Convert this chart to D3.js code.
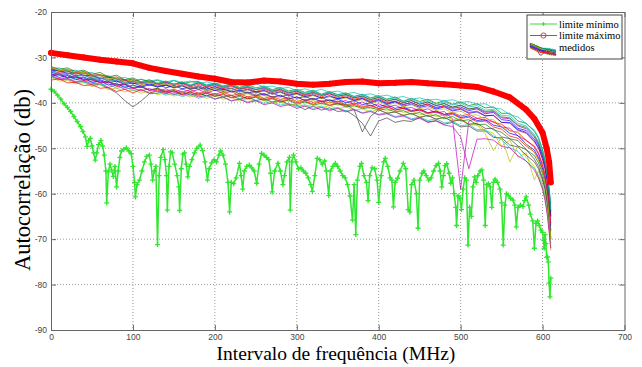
<!DOCTYPE html>
<html>
<head>
<meta charset="utf-8">
<script src="https://cdn.jsdelivr.net/npm/d3@7"></script>
<style>
  body { margin: 0; background: #fff; }
</style>
</head>
<body>
<script>
// axis ticks
const xTicks = [0, 100, 200, 300, 400, 500, 600, 700];
const yTicks = [-90, -80, -70, -60, -50, -40, -30, -20];

// limite minimo (green, '+' markers)
const greenX = [
  0,4,8,12,16,20,24,28,32,36,
  39,42,44,46,48,50,52,54,56,58,
  61,63,65,67,68,70,72,74,76,78,
  80,82,84,86,89,92,95,98,100,102,
  103,105,108,111,114,117,120,122,124,126,
  128,130,132,134,137,139,141,142,144,146,
  148,151,154,156,157,159,161,163,165,167,
  169,172,175,178,182,185,188,191,193,196,
  199,202,205,207,210,213,216,218,220,223,
  226,230,232,234,236,239,242,245,248,251,
  254,257,260,263,266,268,270,273,277,280,
  283,285,288,291,292,294,296,299,302,305,
  308,311,314,317,319,322,325,328,331,334,
  336,339,341,344,347,350,353,356,359,362,
  365,368,370,372,374,377,379,382,385,387,
  389,392,395,398,400,403,406,408,411,414,
  416,418,420,423,426,430,433,436,438,440,
  443,446,448,450,453,455,458,461,464,467,
  470,473,475,477,479,481,483,486,488,490,
  492,494,495,497,499,501,503,505,507,509,
  511,513,515,517,519,521,524,526,528,530,
  532,534,536,538,540,542,545,548,550,552,
  554,556,558,561,564,566,568,570,573,576,
  578,580,583,585,588,590,592,594,596,598,
  600,601,602,603,604,605,606,607,608,609,
  610
];
const greenY = [
  -37.0,-37.5,-38.3,-39.2,-40.2,-41.0,-41.9,-43.0,-44.1,-45.2,
  -46.3,-47.5,-49.6,-48.3,-47.8,-49.5,-51.0,-52.6,-51.0,-49.2,
  -48.3,-49.5,-51.5,-55.0,-62.0,-55.2,-53.5,-54.8,-56.2,-54.0,
  -58.5,-55.0,-52.0,-50.6,-50.2,-49.9,-50.6,-51.2,-54.0,-57.5,
  -60.7,-58.0,-57.0,-55.0,-53.0,-51.8,-51.5,-53.5,-57.0,-55.0,
  -54.0,-71.2,-56.0,-52.0,-50.3,-52.5,-56.0,-63.6,-54.0,-50.8,
  -51.0,-53.5,-56.0,-58.5,-63.7,-54.5,-51.3,-51.0,-53.5,-56.3,
  -54.0,-52.5,-51.0,-50.0,-49.3,-50.5,-53.0,-57.0,-54.5,-53.2,
  -52.5,-53.0,-51.5,-50.6,-51.5,-53.5,-57.5,-64.0,-57.5,-57.8,
  -56.5,-53.3,-56.0,-59.0,-55.0,-54.0,-53.7,-54.3,-55.0,-57.7,
  -53.5,-51.1,-51.5,-52.0,-52.5,-55.5,-59.6,-55.0,-53.3,-55.0,
  -58.0,-56.0,-53.0,-52.0,-63.6,-53.0,-51.5,-53.0,-54.5,-54.3,
  -55.0,-55.5,-56.5,-58.0,-59.5,-56.0,-52.2,-52.5,-53.5,-52.8,
  -55.0,-60.4,-55.0,-54.0,-53.3,-54.0,-55.0,-56.0,-56.5,-58.0,
  -60.5,-65.8,-58.0,-69.0,-57.0,-54.0,-53.3,-56.0,-57.5,-61.5,
  -56.0,-54.3,-54.5,-57.0,-61.9,-56.0,-53.0,-52.2,-54.0,-56.5,
  -57.0,-62.9,-57.5,-56.6,-55.0,-53.3,-54.5,-63.5,-64.0,-58.0,
  -57.0,-60.0,-67.6,-57.0,-55.5,-55.0,-56.0,-57.0,-56.5,-55.0,
  -53.8,-53.3,-55.0,-58.5,-56.0,-53.8,-53.4,-55.5,-57.7,-56.5,
  -60.0,-63.0,-67.0,-60.5,-61.0,-63.5,-59.0,-56.5,-57.0,-71.3,
  -63.0,-65.0,-58.5,-56.3,-57.5,-56.0,-55.0,-54.8,-57.0,-67.0,
  -58.0,-57.8,-58.5,-63.0,-57.5,-56.8,-57.5,-59.0,-62.0,-71.3,
  -62.5,-60.0,-60.3,-61.0,-61.4,-62.5,-67.3,-63.0,-62.5,-62.8,
  -61.5,-60.7,-62.5,-64.5,-66.0,-72.0,-66.5,-66.0,-67.0,-68.0,
  -68.5,-70.2,-72.0,-69.0,-71.0,-74.0,-73.9,-75.0,-79.7,-82.7,
  -78.6
];

// limite maximo (red, 'o' markers)
const redX = [0,20,40,60,80,100,120,140,160,180,200,220,240,260,280,300,320,340,360,380,
  400,420,440,460,480,500,520,540,560,580,590,600,605,608,610];
const redY = [-29.0,-29.5,-30.0,-30.5,-30.9,-31.3,-32.3,-33.0,-33.6,-34.2,-34.7,-35.4,-35.5,-35.1,-35.3,
  -35.8,-36.0,-35.8,-35.4,-35.3,-35.7,-35.6,-35.4,-35.7,-35.9,-36.2,-36.5,-37.5,-38.8,-41.5,
  -43.5,-46.6,-50.0,-53.0,-57.5];

// medidos: sample frequencies shared by all measured curves
const medX = [0,10,20,30,40,50,60,70,80,90,100,110,120,130,140,150,160,170,180,190,
  200,210,220,230,240,250,260,270,280,290,300,310,320,330,340,350,360,370,380,390,
  400,410,420,430,440,450,460,470,480,490,500,510,520,530,540,550,560,570,580,
  590,595,600,603,606,608,610];

const medidos = [
  [-33.2,-33.9,-33.8,-34.5,-34.3,-35.0,-34.9,-35.6,-35.2,-36.0,
   -35.6,-36.3,-35.8,-36.5,-36.1,-36.6,-36.0,-36.9,-36.4,-37.0,
   -36.4,-37.1,-36.8,-37.4,-37.0,-37.6,-37.3,-38.0,-37.6,-38.3,
   -37.9,-38.6,-38.2,-39.0,-38.4,-39.1,-38.7,-39.4,-39.0,-39.8,
   -39.3,-40.1,-39.7,-40.4,-39.9,-40.7,-40.2,-41.0,-40.6,-41.2,
   -40.9,-41.7,-41.3,-42.4,-42.1,-43.7,-43.9,-45.6,-46.1,
   -48.0,-49.3,-51.6,-53.8,-57.0,-60.4,-64.5],
  [-32.5,-33.0,-32.9,-33.6,-33.2,-34.1,-33.8,-34.3,-34.8,-34.9,
   -35.4,-34.8,-35.5,-35.0,-35.7,-35.1,-35.8,-35.4,-35.3,-36.1,
   -35.6,-36.3,-35.8,-36.6,-36.0,-36.7,-36.3,-37.1,-36.6,-37.4,
   -37.0,-37.7,-37.2,-38.1,-37.5,-38.2,-37.8,-38.6,-38.1,-38.9,
   -38.4,-39.2,-38.7,-39.6,-39.0,-39.7,-39.2,-40.1,-39.5,-40.3,
   -39.8,-40.6,-40.2,-41.1,-40.9,-42.3,-42.3,-44.0,-44.5,
   -46.3,-47.8,-50.4,-52.6,-55.8,-59.0,-63.2],
  [-34.1,-33.8,-34.5,-34.3,-35.1,-34.9,-35.6,-35.4,-36.4,-36.0,
   -36.8,-36.5,-37.2,-36.8,-37.4,-37.0,-37.7,-37.1,-37.9,-37.5,
   -38.1,-37.6,-38.4,-38.0,-38.7,-38.3,-39.0,-38.6,-39.3,-38.8,
   -39.7,-39.2,-39.9,-39.5,-40.0,-39.6,-40.5,-40.0,-40.8,-40.5,
   -41.2,-40.7,-41.6,-41.2,-41.9,-41.6,-42.4,-42.0,-42.9,-42.5,
   -43.4,-43.2,-44.2,-44.0,-45.3,-45.8,-47.3,-47.8,-49.5,
   -50.8,-52.4,-55.0,-57.1,-60.4,-64.0,-68.3],
  [-32.4,-32.3,-33.0,-32.8,-33.6,-33.3,-34.0,-34.0,-34.7,-34.4,
   -35.1,-34.8,-35.2,-34.9,-35.4,-35.0,-35.5,-35.2,-35.7,-35.4,
   -35.8,-35.5,-36.1,-35.8,-36.3,-35.8,-36.5,-36.3,-36.8,-36.6,
   -37.3,-36.9,-37.5,-37.0,-37.7,-37.4,-38.0,-37.7,-38.3,-38.0,
   -38.6,-38.3,-38.9,-38.6,-39.2,-38.9,-39.4,-39.2,-39.6,-39.3,
   -39.9,-39.7,-40.3,-40.2,-41.1,-41.4,-42.6,-43.1,-44.6,
   -46.0,-47.5,-50.3,-52.4,-55.5,-58.6,-62.0],
  [-34.0,-34.7,-34.6,-35.3,-35.1,-35.8,-35.6,-36.6,-36.1,-37.0,
   -36.7,-37.4,-36.8,-37.6,-36.9,-37.7,-37.0,-37.5,-37.1,-37.8,
   -37.2,-37.9,-37.5,-38.4,-37.8,-38.5,-38.1,-38.8,-38.4,-39.2,
   -38.7,-39.5,-39.0,-39.7,-39.3,-39.8,-39.5,-40.3,-39.8,-40.7,
   -40.2,-41.0,-40.5,-41.3,-41.0,-41.8,-41.3,-42.2,-41.9,-43.5,
   -59.0,-44.0,-43.4,-43.9,-44.1,-45.3,-45.6,-47.3,-48.2,
   -49.8,-51.3,-54.0,-56.0,-59.5,-63.0,-67.0],
  [-32.8,-33.5,-33.1,-34.1,-33.7,-34.5,-34.4,-35.1,-34.9,-35.8,
   -35.3,-36.2,-35.7,-36.5,-36.0,-36.8,-36.3,-37.1,-36.7,-37.5,
   -37.0,-37.8,-37.5,-38.3,-38.0,-38.7,-38.4,-39.1,-38.8,-39.7,
   -39.3,-40.1,-39.4,-40.3,-39.8,-40.5,-40.2,-40.9,-40.6,-41.3,
   -40.9,-41.8,-41.3,-42.1,-41.8,-42.6,-42.3,-43.0,-42.7,-43.7,
   -43.5,-44.7,-44.7,-46.1,-46.7,-49.5,-48.2,-52.0,-51.0,
   -57.0,-55.0,-58.0,-60.0,-63.0,-67.0,-72.5],
  [-34.2,-34.9,-34.8,-35.5,-35.3,-36.1,-35.9,-36.8,-37.8,-39.5,
   -40.9,-39.6,-38.0,-37.9,-37.4,-38.2,-37.5,-38.3,-37.8,-38.5,
   -38.0,-38.7,-38.3,-39.2,-38.7,-39.5,-39.1,-39.8,-39.5,-40.3,
   -40.5,-41.5,-40.7,-41.6,-41.1,-41.9,-41.7,-42.8,-44.5,-47.3,
   -44.0,-43.3,-44.3,-43.9,-44.1,-43.2,-44.2,-43.9,-44.7,-44.3,
   -45.3,-45.1,-46.2,-46.2,-47.6,-47.7,-49.3,-49.7,-51.5,
   -53.0,-54.5,-57.0,-59.0,-62.5,-66.0,-70.0],
  [-32.9,-32.8,-33.6,-33.3,-34.0,-33.9,-34.7,-34.3,-35.4,-35.0,
   -35.8,-35.4,-36.2,-35.7,-36.7,-36.2,-36.9,-36.5,-37.0,-36.6,
   -37.3,-36.9,-37.6,-37.3,-37.8,-37.5,-38.3,-37.8,-38.6,-38.3,
   -39.0,-38.6,-39.3,-38.8,-39.6,-39.2,-40.0,-39.5,-40.4,-40.0,
   -40.8,-40.4,-41.2,-40.9,-41.7,-41.3,-42.2,-41.8,-42.6,-42.3,
   -43.2,-42.9,-43.9,-43.7,-44.9,-45.3,-46.7,-47.2,-49.1,
   -50.4,-52.0,-54.6,-56.8,-60.0,-63.5,-68.0],
  [-33.7,-33.6,-34.4,-34.0,-34.9,-34.6,-35.4,-35.3,-36.0,-35.9,
   -36.6,-36.3,-37.2,-36.8,-37.6,-37.3,-38.1,-37.6,-38.4,-37.9,
   -38.6,-38.2,-38.9,-38.6,-39.1,-38.8,-39.5,-39.1,-39.9,-39.4,
   -40.3,-39.8,-40.5,-40.1,-40.6,-40.2,-40.9,-40.6,-41.3,-41.0,
   -41.6,-41.3,-42.0,-41.7,-42.5,-42.1,-43.0,-42.6,-43.5,-43.0,
   -44.0,-43.7,-44.8,-44.7,-45.9,-46.5,-47.9,-48.3,-50.3,
   -51.6,-53.2,-55.6,-58.0,-61.5,-65.0,-69.5],
  [-32.2,-32.9,-32.6,-33.4,-33.1,-33.9,-33.8,-34.5,-34.3,-35.1,
   -34.8,-35.6,-35.2,-35.9,-35.5,-36.2,-35.7,-36.5,-35.9,-36.6,
   -36.1,-36.9,-36.4,-37.1,-36.7,-37.5,-37.0,-37.7,-37.3,-38.1,
   -37.7,-38.4,-37.9,-38.7,-38.0,-38.9,-38.4,-39.2,-38.8,-39.6,
   -39.1,-39.9,-39.6,-40.3,-40.0,-40.7,-40.3,-41.2,-40.7,-41.6,
   -41.2,-42.1,-41.8,-42.8,-42.8,-44.3,-44.5,-46.1,-46.7,
   -48.6,-50.0,-52.5,-54.6,-57.6,-61.0,-65.0],
  [-34.2,-33.8,-34.9,-34.6,-35.5,-35.3,-36.0,-35.8,-36.8,-36.4,
   -37.3,-37.0,-37.8,-37.5,-38.3,-37.9,-38.6,-38.2,-39.0,-38.5,
   -39.2,-38.7,-39.5,-39.1,-39.8,-39.4,-40.1,-39.7,-40.5,-40.1,
   -40.9,-40.4,-41.2,-40.7,-41.5,-41.0,-41.8,-41.4,-42.2,-41.7,
   -42.5,-42.2,-43.0,-42.7,-43.5,-43.1,-43.9,-43.5,-44.4,-44.1,
   -45.0,-44.8,-45.9,-45.9,-47.3,-48.1,-49.9,-50.7,-52.9,
   -54.4,-56.0,-58.5,-60.6,-64.0,-67.5,-71.0],
  [-32.9,-33.4,-33.4,-34.0,-33.9,-34.6,-34.5,-35.2,-35.1,-35.8,
   -35.3,-35.8,-35.3,-35.9,-35.5,-35.9,-35.6,-36.3,-35.6,-36.5,
   -35.9,-36.7,-36.2,-36.9,-36.6,-37.1,-36.8,-37.5,-37.1,-37.8,
   -37.4,-38.2,-37.7,-38.4,-38.0,-38.5,-38.2,-38.9,-38.5,-39.3,
   -38.8,-39.6,-39.2,-40.0,-39.5,-40.3,-39.8,-40.6,-40.1,-40.9,
   -40.5,-41.3,-41.1,-42.1,-41.9,-43.3,-43.5,-45.1,-45.7,
   -47.5,-49.0,-51.5,-53.5,-56.6,-60.0,-64.0],
  [-34.4,-35.2,-35.1,-35.8,-35.6,-36.4,-36.0,-37.1,-36.7,-37.6,
   -37.1,-37.9,-37.4,-38.2,-37.8,-38.5,-38.1,-38.7,-38.3,-39.0,
   -38.4,-39.2,-38.8,-39.6,-39.1,-39.8,-39.5,-40.1,-39.7,-40.6,
   -40.1,-40.8,-40.3,-41.1,-40.6,-41.3,-40.9,-41.6,-41.3,-42.0,
   -41.5,-42.3,-42.0,-42.7,-42.4,-43.1,-42.7,-43.6,-43.2,-44.0,
   -43.7,-44.9,-44.9,-46.8,-50.5,-47.5,-53.0,-49.5,-52.0,
   -54.0,-56.5,-59.0,-61.0,-64.5,-68.0,-72.0],
  [-32.5,-33.1,-33.0,-33.7,-33.4,-34.3,-34.0,-34.9,-34.6,-35.5,
   -35.1,-35.9,-35.5,-36.3,-35.8,-36.6,-36.2,-37.0,-36.5,-37.3,
   -36.8,-37.5,-37.2,-38.0,-37.6,-38.3,-37.9,-38.7,-38.3,-39.1,
   -38.7,-39.5,-39.0,-39.8,-39.4,-40.2,-40.3,-41.5,-46.4,-43.0,
   -41.5,-42.3,-42.0,-42.8,-42.3,-43.2,-42.8,-43.6,-43.2,-44.1,
   -43.7,-44.7,-44.5,-45.6,-45.7,-47.5,-47.9,-49.5,-50.3,
   -52.4,-54.0,-56.6,-58.8,-62.0,-65.5,-70.0],
  [-33.6,-34.4,-34.0,-34.9,-34.5,-35.5,-35.1,-36.1,-35.7,-36.6,
   -36.1,-36.6,-36.0,-36.5,-36.1,-36.6,-36.2,-36.9,-36.2,-37.0,
   -36.5,-37.2,-36.8,-37.6,-37.1,-37.8,-37.3,-38.1,-37.6,-38.5,
   -38.0,-38.8,-38.3,-39.0,-38.6,-39.1,-38.8,-39.6,-39.1,-40.0,
   -39.5,-40.3,-39.8,-40.7,-40.3,-41.0,-40.6,-41.4,-40.9,-41.8,
   -41.4,-42.3,-42.0,-42.9,-42.7,-44.3,-44.3,-45.9,-46.5,
   -48.4,-49.8,-52.2,-54.3,-57.5,-60.8,-65.0],
  [-32.0,-32.6,-32.3,-33.1,-32.8,-33.7,-33.3,-34.3,-33.9,-34.9,
   -34.5,-35.4,-34.9,-35.7,-35.2,-35.9,-35.4,-36.2,-35.5,-36.3,
   -35.8,-36.5,-36.1,-36.9,-36.4,-37.1,-36.6,-37.4,-37.0,-37.8,
   -37.4,-38.1,-37.6,-38.3,-37.8,-38.6,-38.1,-38.9,-38.5,-39.3,
   -38.8,-39.6,-39.2,-39.9,-39.5,-40.3,-39.8,-40.6,-40.2,-41.0,
   -40.5,-41.4,-41.0,-41.9,-41.7,-43.1,-43.3,-44.9,-45.4,
   -47.3,-48.8,-51.2,-53.2,-56.5,-59.8,-63.8],
  [-35.0,-34.7,-35.6,-35.5,-36.2,-36.0,-36.8,-36.6,-37.5,-37.0,
   -37.8,-37.1,-37.9,-37.2,-38.0,-37.3,-38.1,-37.6,-38.2,-37.8,
   -38.5,-38.0,-38.8,-38.3,-39.1,-38.6,-39.3,-38.9,-39.7,-39.2,
   -40.0,-39.6,-40.3,-39.7,-40.5,-40.0,-40.7,-40.3,-41.1,-40.6,
   -41.3,-40.9,-41.6,-41.2,-41.9,-41.5,-42.2,-41.8,-42.5,-42.1,
   -42.9,-42.5,-43.4,-43.2,-44.3,-44.7,-46.1,-46.5,-48.3,
   -49.5,-51.0,-53.6,-55.8,-59.0,-62.5,-66.5],
  [-33.0,-33.7,-33.4,-34.2,-33.9,-34.7,-34.5,-35.2,-35.0,-35.7,
   -35.2,-35.7,-35.2,-35.8,-35.3,-35.9,-35.4,-36.0,-35.5,-36.1,
   -35.8,-36.4,-36.0,-36.7,-36.3,-37.0,-36.5,-37.3,-36.8,-37.6,
   -37.2,-37.9,-37.4,-38.2,-37.6,-38.3,-37.9,-38.6,-38.2,-39.0,
   -38.6,-39.3,-38.9,-39.7,-39.2,-40.0,-39.5,-40.3,-39.8,-40.5,
   -40.1,-40.9,-40.6,-41.6,-41.4,-42.7,-42.9,-44.5,-45.1,
   -47.0,-48.5,-51.0,-53.0,-56.2,-59.5,-63.5],
  [-33.9,-33.6,-34.5,-34.2,-34.9,-34.8,-35.5,-35.4,-36.1,-35.9,
   -36.8,-36.4,-37.3,-37.0,-37.8,-37.5,-38.3,-37.9,-38.7,-38.3,
   -39.1,-38.7,-39.6,-39.2,-40.0,-39.5,-40.4,-40.0,-40.8,-40.4,
   -41.2,-40.7,-41.5,-41.0,-41.7,-41.2,-42.0,-41.5,-42.3,-41.9,
   -42.7,-42.4,-43.2,-42.9,-43.7,-43.4,-44.3,-44.0,-44.9,-45.2,
   -47.5,-54.5,-48.0,-47.9,-48.2,-49.6,-49.9,-51.7,-52.8,
   -54.8,-56.5,-59.0,-61.5,-65.0,-68.5,-72.0],
  [-32.2,-32.9,-32.7,-33.5,-33.3,-34.1,-33.9,-34.7,-34.5,-35.3,
   -35.0,-35.9,-35.5,-36.2,-35.8,-36.5,-36.1,-36.8,-36.3,-37.1,
   -36.6,-37.3,-36.8,-37.6,-37.1,-37.9,-37.4,-38.1,-37.7,-38.5,
   -38.1,-38.8,-38.4,-39.1,-38.6,-39.4,-38.9,-39.7,-39.3,-40.1,
   -39.7,-40.6,-40.0,-40.9,-40.4,-41.3,-40.9,-41.7,-41.3,-42.2,
   -41.8,-42.8,-42.6,-43.6,-43.7,-45.3,-46.2,-46.5,-49.2,
   -51.0,-52.6,-55.0,-57.5,-61.0,-65.0,-70.0]
];

// MATLAB default colour order
const medColors = ["#0000ff", "#008000", "#ff0000", "#00bfbf", "#bf00bf", "#bfbf00", "#404040"];

const legendLabels = ["limite mínimo", "limite máximo", "medidos"];

const width = 642, height = 367;
const plotL = 51, plotR = 624.5, plotT = 12, plotB = 330;
const serif = "'Liberation Serif', 'Times New Roman', serif";
const sans = "'Liberation Sans', Arial, sans-serif";

const svg = d3.select("body").append("svg")
  .attr("width", width)
  .attr("height", height);

const x = d3.scaleLinear().domain([0, 700]).range([plotL, plotR]);
const y = d3.scaleLinear().domain([-90, -20]).range([plotB, plotT]);

// dotted grid
const grid = svg.append("g").attr("stroke", "#9a9a9a").attr("stroke-dasharray", "1,2").attr("stroke-width", 1);
grid.selectAll("line.vx").data(xTicks.slice(1, -1)).join("line")
  .attr("class", "vx")
  .attr("x1", d => x(d)).attr("x2", d => x(d)).attr("y1", plotT).attr("y2", plotB);
grid.selectAll("line.hy").data(yTicks.slice(1, -1)).join("line")
  .attr("class", "hy")
  .attr("x1", plotL).attr("x2", plotR).attr("y1", d => y(d)).attr("y2", d => y(d));

// measured curves
const medLine = d3.line().x((d, i) => x(medX[i])).y(d => y(d));
svg.append("g").selectAll("path").data(medidos).join("path")
  .attr("d", medLine)
  .attr("fill", "none")
  .attr("stroke", (d, i) => medColors[i % medColors.length])
  .attr("stroke-width", 0.7);

// limite minimo
const greenPts = d3.zip(greenX, greenY);
const greenCol = "#30e630";
svg.append("path")
  .datum(greenPts)
  .attr("d", d3.line().x(d => x(d[0])).y(d => y(d[1])))
  .attr("fill", "none")
  .attr("stroke", greenCol)
  .attr("stroke-width", 1.5);
svg.append("g").selectAll("path").data(greenPts).join("path")
  .attr("d", d => `M${x(d[0]) - 2.5},${y(d[1])}h5M${x(d[0])},${y(d[1]) - 2.5}v5`)
  .attr("stroke", greenCol)
  .attr("stroke-width", 1.3);

// limite maximo
const redPts = d3.zip(redX, redY);
svg.append("path")
  .datum(redPts)
  .attr("d", d3.line().x(d => x(d[0])).y(d => y(d[1])))
  .attr("fill", "none")
  .attr("stroke", "#ff0000")
  .attr("stroke-width", 6)
  .attr("stroke-linejoin", "round")
  .attr("stroke-linecap", "round");
svg.append("g").selectAll("circle").data(redPts).join("circle")
  .attr("cx", d => x(d[0])).attr("cy", d => y(d[1]))
  .attr("r", 2.6)
  .attr("fill", "none")
  .attr("stroke", "#ff0000");

// axes (inward ticks on all sides)
const fmt = d => String(d);
const axStyle = g => {
  g.selectAll("path,line").attr("stroke", "#666");
  g.selectAll("text").attr("fill", "#444").attr("font-size", 8.5)
    .style("font-family", sans);
};
svg.append("g").attr("transform", `translate(0,${plotB})`)
  .call(d3.axisBottom(x).tickValues(xTicks).tickFormat(fmt).tickSize(-5).tickSizeOuter(0).tickPadding(3.5))
  .call(axStyle);
svg.append("g").attr("transform", `translate(${plotL},0)`)
  .call(d3.axisLeft(y).tickValues(yTicks).tickFormat(fmt).tickSize(-5).tickSizeOuter(0).tickPadding(4))
  .call(axStyle);
svg.append("g").attr("transform", `translate(0,${plotT})`)
  .call(d3.axisTop(x).tickValues(xTicks).tickFormat("").tickSize(-5).tickSizeOuter(0))
  .call(axStyle);
svg.append("g").attr("transform", `translate(${plotR},0)`)
  .call(d3.axisRight(y).tickValues(yTicks).tickFormat("").tickSize(-5).tickSizeOuter(0))
  .call(axStyle);

// axis titles
svg.append("text")
  .attr("x", 336).attr("y", 360)
  .attr("text-anchor", "middle")
  .style("font-family", serif)
  .attr("font-size", 19.5)
  .text("Intervalo de frequência (MHz)");
svg.append("text")
  .attr("transform", "translate(30,180) rotate(-90)")
  .attr("text-anchor", "middle")
  .style("font-family", serif)
  .attr("font-size", 22.5)
  .text("Autocorrelação (db)");

// legend
const lg = svg.append("g");
lg.append("rect")
  .attr("x", 527).attr("y", 15).attr("width", 95).attr("height", 44)
  .attr("fill", "#fff").attr("stroke", "#444").attr("stroke-width", 1);
lg.selectAll("text").data(legendLabels).join("text")
  .attr("x", 559).attr("y", (d, i) => 27.5 + i * 11.7)
  .style("font-family", serif)
  .attr("font-size", 10.5)
  .text(d => d);
lg.append("line").attr("x1", 530).attr("x2", 557).attr("y1", 24).attr("y2", 24)
  .attr("stroke", greenCol);
lg.append("path").attr("d", "M541.5,24h4M543.5,22v4").attr("stroke", greenCol);
lg.append("line").attr("x1", 530).attr("x2", 557).attr("y1", 35.5).attr("y2", 35.5)
  .attr("stroke", "#c04a4a");
lg.append("circle").attr("cx", 543.5).attr("cy", 35.5).attr("r", 2.6)
  .attr("fill", "none").attr("stroke", "#c04a4a");

// medidos swatch: the start of the measured curves squeezed into the legend box
const sx = d3.scaleLinear().domain([0, 240]).range([530, 556]);
const sy = d3.scaleLinear().domain([-39, -32]).range([55, 43]);
lg.append("g").selectAll("path").data(medidos).join("path")
  .attr("d", d => d3.line().x((v, i) => sx(medX[i])).y(v => sy(Math.max(v, -39)))(d.slice(0, 25)))
  .attr("fill", "none")
  .attr("stroke", (d, i) => medColors[i % medColors.length])
  .attr("stroke-width", 0.8);
</script>
</body>
</html>
